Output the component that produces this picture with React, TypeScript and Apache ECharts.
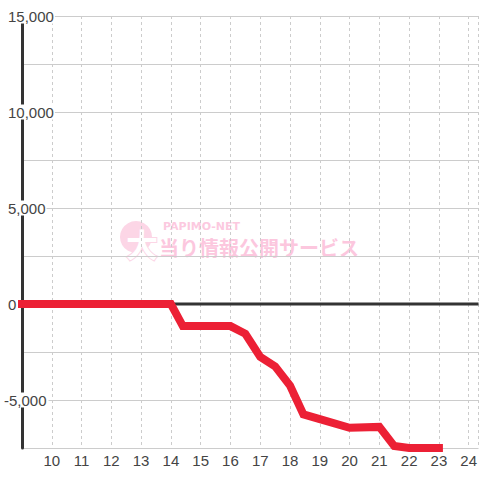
import React, { useEffect, useRef } from "react";
import * as echarts from "echarts";

// Hour of day (x) and cumulative balance (y)
const hours: number[] = [9, 14, 14.4, 16, 16.5, 17, 17.5, 18, 18.45, 19, 20, 21, 21.5, 22, 23];
const balance: number[] = [0, 0, -1150, -1150, -1550, -2750, -3250, -4250, -5750, -6000, -6450, -6400, -7400, -7500, -7500];

// Axis settings
const xMin = 9;
const xMax = 24.33;
const yMin = -7500;
const yMax = 15000;
const yStep = 2500;
const yLabelStep = 5000;

// Reference zero line
const zeroLineX: number[] = [xMin, xMax];
const zeroLineY: number[] = [0, 0];

const fmt = (v: number) => {
  const s = Math.abs(v).toString().replace(/\B(?=(\d{3})+(?!\d))/g, ",");
  return v < 0 ? "-" + s : s;
};

export default function App() {
  const ref = useRef<HTMLDivElement>(null);
  useEffect(() => {
    if (!ref.current) return;
    const chart = echarts.init(ref.current, undefined, { renderer: "svg" });
    const font = "'Liberation Sans', Arial, sans-serif";
    chart.setOption({
      animation: false,
      backgroundColor: "#ffffff",
      grid: { left: 20, right: 0, top: 16, bottom: 32, containLabel: false },
      xAxis: {
        type: "value",
        min: xMin,
        max: xMax,
        interval: 1,
        axisLine: { show: false },
        axisTick: { show: false },
        axisLabel: {
          showMinLabel: false,
          showMaxLabel: false,
          color: "#444",
          fontSize: 15,
          fontFamily: font,
          margin: 5,
        },
        splitLine: { show: true, lineStyle: { color: "#cccccc", type: [3, 3], width: 1 } },
      },
      yAxis: {
        type: "value",
        min: yMin,
        max: yMax,
        interval: yStep,
        axisLine: { show: true, lineStyle: { color: "#333333", width: 3 } },
        axisTick: { show: false },
        axisLabel: {
          align: "left",
          margin: 19,
          fontFamily: font,
          formatter: (v: number) => {
            if (v % yLabelStep !== 0) return "";
            return v < 0 ? `{n|${fmt(v)}}` : `{p|${fmt(v)}}`;
          },
          rich: {
            p: {
              color: "#444",
              fontSize: 15,
              fontFamily: font,
              backgroundColor: "#ffffff",
              padding: [0, 1, 0, 5],
              lineHeight: 14,
            },
            n: {
              color: "#444",
              fontSize: 15,
              fontFamily: font,
              backgroundColor: "#ffffff",
              padding: [0, 2, 0, 1],
              lineHeight: 14,
            },
          },
        },
        splitLine: { show: true, lineStyle: { color: "#cccccc", width: 1 } },
      },
      graphic: [
        {
          type: "group",
          z: -10,
          silent: true,
          children: [
            {
              type: "circle",
              shape: { cx: 136, cy: 237, r: 16 },
              style: { fill: "#fcd6e6" },
              z: -10,
            },
            {
              type: "text",
              x: 142,
              y: 243,
              style: {
                text: "大",
                fill: "#ffffff",
                stroke: "#fcd6e6",
                lineWidth: 2,
                fontSize: 32,
                fontWeight: "bold",
                fontFamily: "'Noto Sans CJK JP', sans-serif",
                align: "center",
                verticalAlign: "middle",
              },
              z: -9,
            },
            {
              type: "text",
              x: 163,
              y: 226,
              style: {
                text: "PAPIMO-NET",
                fill: "#fcc9df",
                fontSize: 11,
                fontWeight: "bold",
                fontFamily: "'DejaVu Sans', sans-serif",
                align: "left",
                verticalAlign: "middle",
              },
              z: -9,
            },
            {
              type: "text",
              x: 159,
              y: 247,
              style: {
                text: "当り情報公開サービス",
                fill: "#fcc7de",
                fontSize: 20,
                fontWeight: "bold",
                fontFamily: "'Noto Sans CJK JP', sans-serif",
                align: "left",
                verticalAlign: "middle",
              },
              z: -9,
            },
          ],
        },
      ],
      series: [
        {
          name: "zero",
          type: "line",
          z: 1,
          data: zeroLineX.map((x, i) => [x, zeroLineY[i]]),
          symbol: "none",
          silent: true,
          lineStyle: { color: "#333333", width: 3 },
        },
        {
          name: "balance",
          type: "line",
          z: 3,
          clip: false,
          data: hours.map((h, i) => [h, balance[i]]),
          symbol: "none",
          lineStyle: { color: "#ec2035", width: 8, cap: "square", join: "miter" },
        },
      ],
    });
    return () => chart.dispose();
  }, []);
  return (
    <div
      ref={ref}
      style={{ position: "fixed", left: 0, top: 0, width: 480, height: 480 }}
    />
  );
}
